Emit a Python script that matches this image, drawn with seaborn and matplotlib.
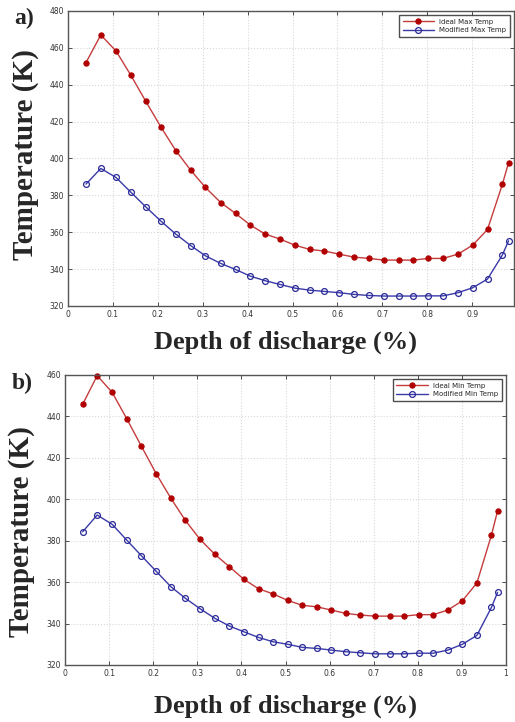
import numpy as np
import pandas as pd
import matplotlib
matplotlib.use("Agg")
import matplotlib.pyplot as plt
import seaborn as sns

# ---- data ----
dod = [0.04, 0.073, 0.107, 0.14, 0.173, 0.207, 0.24, 0.273, 0.306, 0.34,
       0.373, 0.406, 0.439, 0.472, 0.505, 0.538, 0.571, 0.604, 0.637, 0.670,
       0.703, 0.736, 0.769, 0.802, 0.835, 0.868, 0.901, 0.934, 0.967, 0.981]

ideal_max = [452.0, 467.0, 458.3, 445.1, 431.1, 417.0, 404.3, 393.7, 384.3, 376.1,
             370.2, 363.9, 359.0, 356.3, 353.0, 350.7, 349.8, 348.1, 346.5, 345.8,
             344.9, 344.9, 344.9, 345.8, 345.8, 348.1, 353.0, 361.5, 385.9, 397.8]
modified_max = [386.1, 394.6, 389.7, 381.7, 373.8, 366.0, 359.0, 352.8, 347.2, 343.1,
                339.8, 336.2, 333.7, 331.7, 329.7, 328.6, 327.9, 327.2, 326.3, 325.7,
                325.4, 325.4, 325.4, 325.5, 325.5, 327.2, 329.9, 334.6, 347.6, 355.4]

ideal_min = [445.8, 459.7, 451.6, 438.9, 425.7, 412.3, 400.5, 389.8, 380.7, 373.4,
             367.4, 361.3, 356.8, 354.3, 351.2, 348.8, 348.1, 346.5, 344.9, 344.1,
             343.6, 343.6, 343.6, 344.3, 344.3, 346.5, 351.0, 359.6, 382.7, 394.5]
modified_min = [384.3, 392.4, 387.9, 380.3, 372.8, 365.2, 357.8, 352.2, 347.2, 342.5,
                338.8, 336.0, 333.3, 331.2, 330.0, 328.5, 328.0, 327.2, 326.4, 325.9,
                325.4, 325.4, 325.4, 325.7, 325.7, 327.2, 330.0, 334.3, 347.8, 355.1]

xticks = [0, 0.1, 0.2, 0.3, 0.4, 0.5, 0.6, 0.7, 0.8, 0.9, 1]
xticklabels = ["0", "0.1", "0.2", "0.3", "0.4", "0.5", "0.6", "0.7", "0.8", "0.9", "1"]
yticks_a = [320, 340, 360, 380, 400, 420, 440, 460, 480]
yticks_b = [320, 340, 360, 380, 400, 420, 440, 460]

labels_a = ["Ideal Max Temp", "Modified Max Temp"]
labels_b = ["Ideal Min Temp", "Modified Min Temp"]

sns.set_theme(style="whitegrid")
plt.rcParams["font.family"] = ["DejaVu Sans"]

W, H = 515, 722
fig = plt.figure(figsize=(W / 100, H / 100), dpi=100)

RED_LINE = "#c43c3c"
RED_MK = "#b00000"
BLUE_LINE = "#3a3aa8"
BLUE_MK = "#2a2a9a"


def px_axes(l, t, r, b):
    return fig.add_axes([l / W, 1 - b / H, (r - l) / W, (b - t) / H])


def panel(ax, ideal, modified, labels, ylim, yticks, xmax):
    df = pd.DataFrame({"x": dod, "ideal": ideal, "modified": modified})
    sns.lineplot(data=df, x="x", y="ideal", ax=ax, color=RED_LINE, lw=1.0,
                 marker="o", markersize=3.8, markerfacecolor=RED_MK,
                 markeredgecolor=RED_MK, label=labels[0], clip_on=False)
    sns.lineplot(data=df, x="x", y="modified", ax=ax, color=BLUE_LINE, lw=1.0,
                 marker="o", markersize=4.2, markerfacecolor="none",
                 markeredgecolor=BLUE_MK, markeredgewidth=0.9,
                 label=labels[1], clip_on=False)
    ax.set_xlim(0, xmax)
    ax.set_ylim(*ylim)
    xt = [t for t in xticks if t <= xmax + 1e-9]
    ax.set_xticks(xt)
    ax.set_xticklabels([l for t, l in zip(xticks, xticklabels) if t <= xmax + 1e-9])
    ax.set_yticks(yticks)
    ax.set_yticklabels([str(v) for v in yticks])
    ax.set_xlabel("")
    ax.set_ylabel("")
    ax.set_facecolor("white")
    ax.grid(True, color="#d8d8d8", linestyle=":", linewidth=0.8)
    ax.tick_params(direction="in", length=3, width=0.6, top=True, right=True,
                   labelsize=5.5, colors="#333333", pad=3,
                   bottom=True, left=True)
    for s in ax.spines.values():
        s.set_color("#555555")
        s.set_linewidth(1.0)
    leg = ax.legend(loc="upper right", fontsize=5, frameon=True, fancybox=False,
                    borderpad=0.5, handlelength=4.5, labelspacing=0.4,
                    borderaxespad=0.6)
    leg.get_frame().set_edgecolor("#222222")
    leg.get_frame().set_linewidth(1.0)


ax_a = px_axes(68, 11, 514, 306)
panel(ax_a, ideal_max, modified_max, labels_a, (320, 480), yticks_a, 0.993)

ax_b = px_axes(65, 375, 506, 665)
panel(ax_b, ideal_min, modified_min, labels_b, (320, 460), yticks_b, 1.0)

serif = ["Liberation Serif", "DejaVu Serif"]
fig.text(24 / W, 1 - 18 / H, "a)", fontsize=17, fontweight="bold", family=serif,
         ha="center", va="center")
fig.text(22 / W, 1 - 383 / H, "b)", fontsize=17, fontweight="bold", family=serif,
         ha="center", va="center")
fig.text(26 / W, 1 - 155 / H, "Temperature (K)", fontsize=21, fontweight="bold",
         family=serif, rotation=90, ha="center", va="center")
fig.text(22 / W, 1 - 532 / H, "Temperature (K)", fontsize=21, fontweight="bold",
         family=serif, rotation=90, ha="center", va="center")
fig.text(285 / W, 1 - 342 / H, "Depth of discharge (%)", fontsize=19,
         fontweight="bold", family=serif, ha="center", va="center")
fig.text(285 / W, 1 - 706 / H, "Depth of discharge (%)", fontsize=19,
         fontweight="bold", family=serif, ha="center", va="center")

fig.savefig("out.png", dpi=100)
